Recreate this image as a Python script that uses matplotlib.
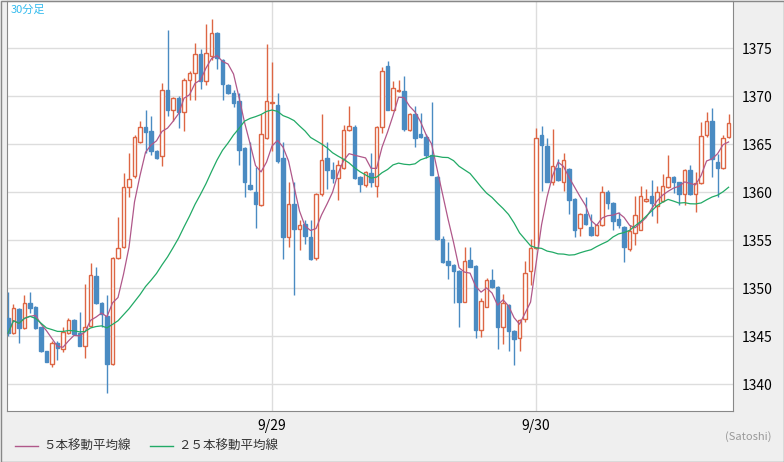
import matplotlib
matplotlib.use("Agg")
import matplotlib.pyplot as plt
import numpy as np
import pandas as pd

plt.rcParams['font.family'] = ['Noto Sans CJK JP', 'DejaVu Sans']

opens = [1346.9,1345.3,1347.8,1345.8,1348.4,1348.0,1345.9,1343.4,1342.1,1344.3,1343.7,1345.3,1346.7,1345.3,1344.0,1346.1,
 1351.3,1348.4,1347.1,1342.1,1353.1,1354.3,1360.5,1361.7,1365.2,1366.8,1366.4,1364.3,1363.8,1370.6,1368.6,1369.8,
 1368.3,1371.7,1372.4,1374.4,1371.6,1374.2,1376.6,1373.8,1371.2,1370.3,1369.5,1364.6,1360.7,1360.0,1358.7,1365.6,
 1369.3,1369.1,1363.6,1355.3,1358.8,1356.2,1356.7,1355.3,1353.1,1359.8,1363.6,1362.3,1361.5,1362.5,1366.5,1366.8,
 1361.6,1360.7,1362.0,1360.6,1366.8,1373.1,1368.6,1370.5,1370.5,1366.5,1368.1,1366.0,1365.7,1363.9,1361.6,1355.1,
 1352.8,1352.4,1351.8,1348.6,1352.9,1352.3,1345.6,1348.0,1350.8,1350.1,1345.9,1348.2,1345.5,1344.8,1346.8,1351.8,
 1354.2,1365.9,1364.8,1361.1,1362.5,1361.0,1362.4,1359.3,1356.3,1357.7,1356.4,1355.5,1356.6,1360.0,1358.9,1357.2,
 1356.4,1354.1,1355.7,1356.1,1359.1,1359.6,1358.6,1359.1,1360.5,1361.6,1361.0,1359.8,1362.3,1359.8,1360.9,1365.9,
 1367.4,1363.1,1362.5,1365.7]
closes = [1345.3,1347.9,1345.8,1348.4,1347.9,1345.8,1343.4,1342.3,1344.3,1343.8,1345.4,1346.7,1345.2,1344.0,1345.9,1351.4,
 1348.4,1347.3,1342.1,1353.1,1354.2,1360.5,1361.4,1365.7,1366.8,1366.3,1364.3,1363.6,1370.6,1368.5,1369.8,1368.3,
 1371.7,1372.4,1374.4,1371.6,1374.5,1376.6,1374.0,1371.3,1370.3,1369.3,1364.4,1361.0,1360.3,1358.8,1366.0,1369.5,
 1369.4,1363.2,1355.3,1358.8,1356.2,1356.6,1355.4,1353.0,1359.8,1363.3,1362.3,1361.5,1362.8,1366.5,1366.9,1361.5,
 1360.8,1362.1,1361.1,1366.8,1372.6,1368.6,1370.8,1370.6,1366.6,1368.1,1365.6,1365.7,1363.9,1361.8,1355.1,1352.7,
 1352.4,1351.8,1348.6,1352.8,1352.2,1345.6,1348.7,1350.8,1350.1,1345.9,1348.4,1345.5,1344.7,1346.7,1351.6,1354.2,
 1365.6,1364.9,1361.1,1362.7,1361.3,1363.3,1359.2,1356.1,1357.7,1356.7,1355.5,1356.6,1360.0,1358.9,1357.0,1356.6,
 1354.3,1355.9,1357.6,1359.6,1359.3,1358.9,1360.0,1360.6,1361.6,1361.0,1359.8,1362.3,1359.8,1360.9,1365.8,1367.4,
 1363.4,1362.5,1365.6,1367.2]
highs = [1349.6,1348.3,1347.9,1349.3,1349.6,1348.1,1346.0,1343.5,1344.5,1344.5,1345.9,1346.9,1346.8,1347.5,1350.4,1352.6,
 1352.2,1348.5,1349.3,1353.2,1357.4,1362.0,1364.1,1365.9,1367.4,1368.6,1367.9,1364.4,1371.4,1376.9,1369.9,1370.0,
 1371.9,1372.6,1375.5,1374.9,1377.5,1378.0,1376.7,1373.9,1371.3,1370.6,1370.3,1364.7,1365.2,1362.6,1368.1,1375.4,
 1373.5,1370.3,1365.2,1361.0,1361.0,1357.1,1357.1,1357.1,1359.9,1368.1,1365.2,1363.1,1363.3,1367.0,1369.0,1367.0,
 1361.7,1362.2,1364.1,1366.9,1373.0,1373.7,1371.6,1371.7,1372.1,1368.2,1369.0,1368.2,1366.0,1369.4,1361.7,1355.4,
 1354.8,1352.5,1351.9,1354.3,1354.3,1352.4,1349.0,1351.1,1352.0,1350.2,1349.4,1348.3,1345.6,1346.8,1352.8,1355.1,
 1366.7,1366.9,1365.6,1366.6,1363.4,1364.1,1362.5,1359.4,1357.8,1359.5,1357.7,1356.7,1360.6,1360.2,1359.0,1357.9,
 1356.5,1356.6,1359.6,1360.6,1360.3,1361.3,1360.6,1361.9,1363.9,1361.7,1361.1,1362.4,1362.8,1362.1,1367.3,1368.3,
 1368.8,1364.0,1365.9,1368.1]
lows = [1345.0,1345.2,1344.3,1345.7,1347.4,1345.7,1343.3,1342.3,1341.8,1342.5,1343.3,1345.2,1345.2,1344.0,1342.7,1345.9,
 1348.3,1345.9,1339.1,1342.0,1353.0,1354.2,1359.5,1361.5,1365.1,1364.1,1363.9,1363.4,1362.7,1367.9,1367.4,1366.7,
 1366.4,1369.6,1369.6,1370.7,1371.1,1373.8,1372.8,1369.6,1370.2,1368.9,1362.8,1359.5,1360.2,1356.3,1358.6,1365.5,
 1364.3,1363.0,1353.0,1354.3,1349.3,1354.0,1354.6,1352.9,1352.9,1359.6,1360.3,1360.9,1359.2,1362.4,1366.4,1361.4,
 1360.0,1360.5,1360.5,1359.5,1366.2,1368.5,1368.6,1370.4,1366.4,1366.4,1364.7,1365.6,1363.6,1361.8,1355.0,1352.6,
 1350.9,1348.4,1345.9,1348.5,1352.2,1344.8,1344.9,1348.0,1350.0,1343.7,1344.2,1343.5,1342.0,1343.4,1346.5,1350.3,
 1354.1,1360.1,1361.1,1360.7,1361.2,1360.1,1357.7,1355.3,1355.4,1356.6,1355.4,1355.4,1356.5,1358.2,1356.1,1356.3,
 1352.7,1353.9,1354.5,1356.0,1359.0,1357.5,1356.8,1359.0,1360.4,1359.9,1358.7,1358.7,1359.7,1357.9,1360.8,1365.7,
 1361.6,1359.5,1362.4,1365.6]

x_labels = {48: "9/29", 96: "9/30"}
legend_labels = ["５本移動平均線", "２５本移動平均線"]

UP = "#dd6644"; DOWN = "#4a8bc2"; MA5C = "#b0588a"; MA25C = "#22aa66"

fig = plt.figure(figsize=(7.84, 4.62), dpi=100)
fig.patch.set_facecolor("#efefef")
fig.patches.append(plt.Rectangle((0.5/784, 0.5/462), 783/784, 461/462, transform=fig.transFigure,
                                 fill=False, edgecolor="#888888", lw=1))
ax = fig.add_axes([7/784, 51/462, 726/784, 410/462])
ax.set_facecolor("white")
n = len(opens)
xs = np.arange(n)
ax.set_xlim(-0.18, 131.8)
ax.set_ylim(1337.2, 1379.9)
for v in range(1340, 1380, 5):
    ax.axhline(v, color="#dddddd", lw=1, zorder=0)
for k in x_labels:
    ax.axvline(k, color="#dddddd", lw=1, zorder=0)
w = 0.6
for i in range(n):
    o, c, h, l = opens[i], closes[i], highs[i], lows[i]
    if c >= o:
        ax.vlines(i, c, h, color=UP, lw=1, zorder=2)
        ax.vlines(i, l, o, color=UP, lw=1, zorder=2)
        ax.add_patch(plt.Rectangle((i - w/2, o), w, max(c - o, 0.05), facecolor="white", edgecolor=UP, lw=1, zorder=3))
    else:
        ax.vlines(i, l, h, color=DOWN, lw=1, zorder=2)
        ax.add_patch(plt.Rectangle((i - w/2, c), w, o - c, facecolor=DOWN, edgecolor=DOWN, lw=1, zorder=3))
cs = pd.Series(closes)
ax.plot(xs, cs.rolling(5, min_periods=1).mean(), color=MA5C, lw=0.9, zorder=4)
ax.plot(xs, cs.rolling(25, min_periods=1).mean(), color=MA25C, lw=0.9, zorder=4)

ax.yaxis.tick_right()
ax.set_yticks(range(1340, 1380, 5))
ax.tick_params(axis="y", length=0, labelsize=10, pad=6)
ax.set_xticks(list(x_labels.keys()))
ax.set_xticklabels(list(x_labels.values()))
ax.tick_params(axis="x", length=0, labelsize=10, pad=6)
for s in ax.spines.values():
    s.set_color("#888888")
ax.text(0.005, 0.99, "30分足", transform=ax.transAxes, va="top", ha="left", color="#33bbee", fontsize=8)

fig.lines.append(plt.Line2D([15/784, 38/784], [16/462, 16/462], color=MA5C, lw=1, transform=fig.transFigure))
fig.text(43/784, 16/462, legend_labels[0], va="center", fontsize=9, color="#333333")
fig.lines.append(plt.Line2D([150/784, 173/784], [16/462, 16/462], color=MA25C, lw=1, transform=fig.transFigure))
fig.text(178/784, 16/462, legend_labels[1], va="center", fontsize=9, color="#333333")
fig.text(772/784, 25/462, "(Satoshi)", ha="right", va="center", fontsize=8, color="#999999")
fig.savefig("out.png", dpi=100, facecolor=fig.get_facecolor())
